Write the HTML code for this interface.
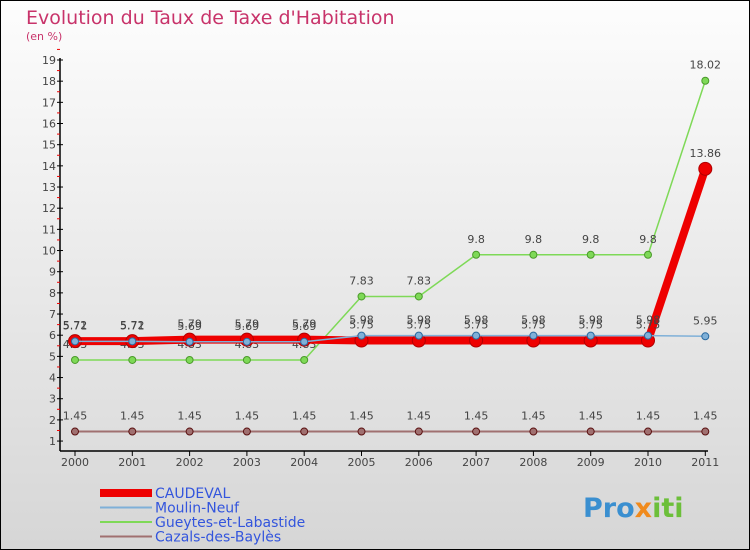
<!DOCTYPE html>
<html><head><meta charset="utf-8"><style>
body{margin:0}
#c{width:750px;height:550px;position:relative;box-sizing:border-box;border:1px solid #000;background:linear-gradient(#fdfdfd,#d6d6d6);font-family:"DejaVu Sans","Liberation Sans",sans-serif;overflow:hidden}
</style></head><body>
<div id="c">
<svg id="s" width="750" height="550" style="position:absolute;left:-1px;top:-1px">
<text x="26" y="24" font-size="19" fill="#c8336a">Evolution du Taux de Taxe d'Habitation</text>
<text x="26" y="40" font-size="11" fill="#c8336a">(en %)</text>
<g id="axes"></g><g id="series"></g><g id="legend"></g>
<text x="583" y="517" font-size="27" font-weight="bold" fill="#3a8fd0">Pro<tspan fill="#f08a1c">x</tspan><tspan fill="#6cbf3a">iti</tspan></text>
</svg>
</div>
<script>
const years=["2000","2001","2002","2003","2004","2005","2006","2007","2008","2009","2010","2011"];
const yTicks=[1,2,3,4,5,6,7,8,9,10,11,12,13,14,15,16,17,18,19];
const caudeval=[5.72,5.72,5.79,5.79,5.79,5.75,5.75,5.75,5.75,5.75,5.75,13.86];
const moulin=[5.71,5.71,5.69,5.69,5.69,5.98,5.98,5.98,5.98,5.98,5.98,5.95];
const gueytes=[4.83,4.83,4.83,4.83,4.83,7.83,7.83,9.8,9.8,9.8,9.8,18.02];
const cazals=[1.45,1.45,1.45,1.45,1.45,1.45,1.45,1.45,1.45,1.45,1.45,1.45];
const seriesNames=["CAUDEVAL","Moulin-Neuf","Gueytes-et-Labastide","Cazals-des-Baylès"];
const NS="http://www.w3.org/2000/svg";
const X=i=>75+i*57.3, Y=v=>60+(19-v)*21.17;
function mk(t,a,p){const e=document.createElementNS(NS,t);for(const k in a)e.setAttribute(k,a[k]);p.appendChild(e);return e;}
const ax=document.getElementById('axes');
let e=mk('line',{x1:60,y1:58,x2:60,y2:451,stroke:'#000','stroke-width':1.5},ax);


e=mk('line',{x1:60,y1:451,x2:708,y2:451,stroke:'#000','stroke-width':1.5},ax);


yTicks.forEach(v=>{
 mk('line',{x1:57,x2:63,y1:Y(v),y2:Y(v),stroke:'#000'},ax);
 mk('line',{x1:57,x2:60,y1:Y(v+0.5),y2:Y(v+0.5),stroke:'#e00'},ax);
 const t=mk('text',{x:56,y:Y(v)+4,'font-size':11,fill:'#444','text-anchor':'end'},ax);t.textContent=v;
 
 
});
years.forEach((y,i)=>{
 mk('line',{x1:X(i),x2:X(i),y1:451,y2:456,stroke:'#000'},ax);
 const t=mk('text',{x:X(i),y:466,'font-size':11,fill:'#444','text-anchor':'middle'},ax);t.textContent=y;
 
 
});
const sg=document.getElementById('series');
function draw(d,color,w,r,name,dark){
 const g=mk('g',{},sg);
 
 
 mk('polyline',{points:d.map((v,i)=>X(i)+','+Y(v)).join(' '),fill:'none',stroke:color,'stroke-width':w},g);
 d.forEach((v,i)=>{
  const c=mk('circle',{cx:X(i),cy:Y(v),r:r,fill:color,stroke:dark,'stroke-width':1},g);
  
  
  const t=mk('text',{x:X(i),y:Y(v)-12,'font-size':11,fill:'#444','text-anchor':'middle'},g);t.textContent=v;
 });
}
draw(gueytes,'#7ed957',1.5,3.5,'gueytes','#4a9a2a');
draw(cazals,'#a07070',2,3.5,'cazals','#5a1010');
mk('g',{},sg);
draw(caudeval,'#ee0000',8,6.5,'caudeval','#b00000');
draw(moulin,'#7fb0d8',1.5,3.5,'moulin-neuf','#2a6aa0');
const lg=document.getElementById('legend');
const lc=['#ee0000','#7fb0d8','#7ed957','#a07070'],lw=[8,2,2,2];
seriesNames.forEach((n,i)=>{
 const y=493+i*14.5;
 mk('line',{x1:100,x2:152,y1:y,y2:y,stroke:lc[i],'stroke-width':lw[i]},lg);
 const t=mk('text',{x:155,y:y+5,'font-size':14,fill:'#3355dd'},lg);t.textContent=n;
 
 
});
</script>
</body></html>
